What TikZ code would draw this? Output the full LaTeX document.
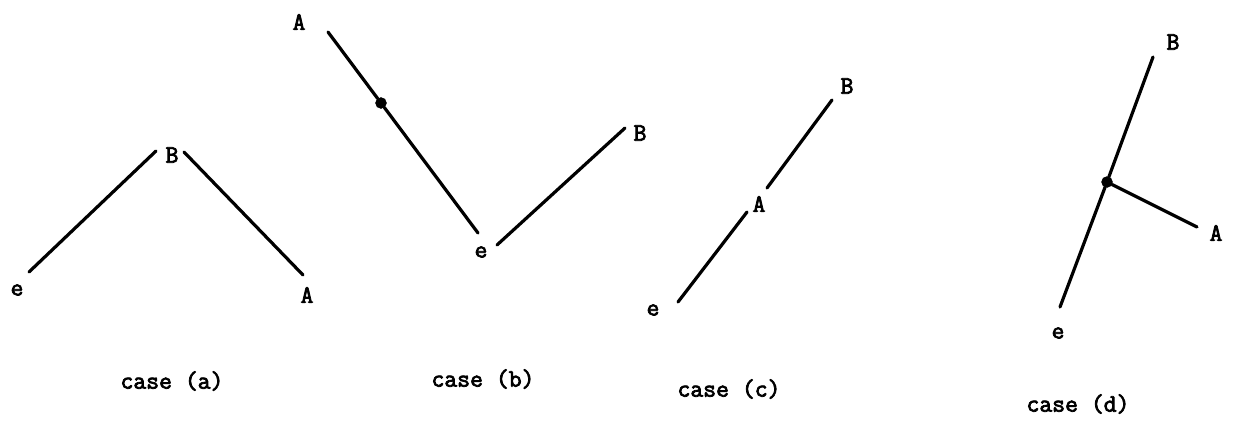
\documentclass[tikz,border=0pt]{standalone}
\usepackage{fontspec}
\newfontfamily\casetype[FakeBold=3]{Latin Modern Mono}
\usepackage{tikz}
\usetikzlibrary{calc}
\newcommand{\joinptradius}{11pt}
\newcommand{\casefont}{\casetype\fontsize{25}{25}\selectfont}
\tikzset{joinpt/.style={circle, draw, fill=black, inner sep=0pt, minimum width=\joinptradius}}
\tikzset{lbl/.style={draw=none, fill=none, inner sep=0pt, font=\casefont}}
\tikzset{edge/.style={line width=3.2pt, line cap=round}}

\begin{document}
\begin{tikzpicture}[x=1pt,y=-1pt]

\useasboundingbox (0,0) rectangle (1241,424);

% case (a)
\node[lbl] (ae) at (17,290) {e};
\node[lbl] (aB) at (172,155) {B};
\node[lbl] (aA) at (307,295) {A};
\coordinate (a1) at (29,272); \coordinate (a2) at (156,151);
\coordinate (a3) at (184,152); \coordinate (a4) at (303,275);
\draw[edge] (a1) -- (a2);
\draw[edge] (a3) -- (a4);
\node[lbl] (acap) at (172,381) {case (a)};

% case (b)
\node[lbl] (bA) at (299,22) {A};
\node[lbl] (be) at (481,252) {e};
\node[lbl] (bB) at (640,133) {B};
\node[joinpt] (b0) at (381,103) {};
\coordinate (b1) at (328,32); \coordinate (b2) at (478,233);
\coordinate (b3) at (497,245); \coordinate (b4) at (625,128);
\draw[edge] (b1) -- (b0) -- (b2);
\draw[edge] (b3) -- (b4);
\node[lbl] (bcap) at (483,379) {case (b)};

% case (c)
\node[lbl] (cB) at (847,86) {B};
\node[lbl] (cA) at (759,204) {A};
\node[lbl] (ce) at (653,310) {e};
\coordinate (c1) at (832,100); \coordinate (c2) at (767,188);
\coordinate (c3) at (747,212); \coordinate (c4) at (678,302);
\draw[edge] (c1) -- (c2);
\draw[edge] (c3) -- (c4);
\node[lbl] (ccap) at (729,389) {case (c)};

% case (d)
\node[lbl] (dB) at (1173,42) {B};
\node[lbl] (dA) at (1216,233) {A};
\node[lbl] (de) at (1058,333) {e};
\node[joinpt] (d0) at (1107,182) {};
\coordinate (d1) at (1153,57); \coordinate (d2) at (1060,307);
\coordinate (d3) at (1197,227);
\draw[edge] (d1) -- (d0) -- (d2);
\draw[edge] (d0) -- (d3);
\node[lbl] (dcap) at (1078,404) {case (d)};

\end{tikzpicture}
\end{document}
